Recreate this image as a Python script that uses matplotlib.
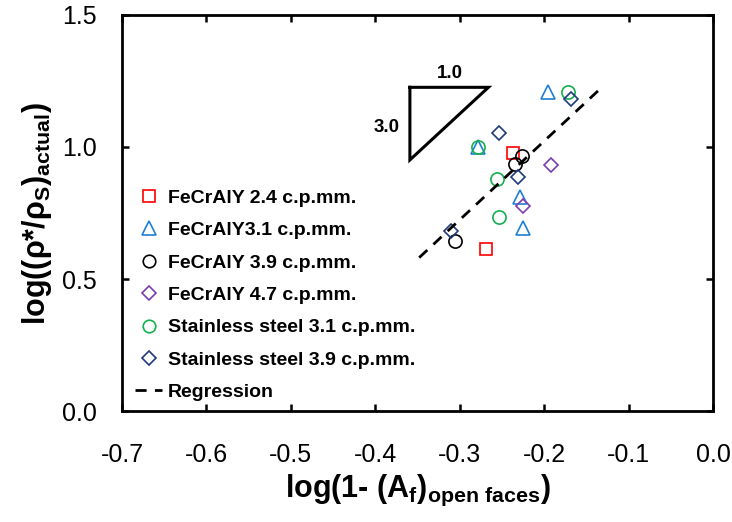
import matplotlib.pyplot as plt
import numpy as np

plt.rcParams['font.family'] = ['Liberation Sans', 'DejaVu Sans']
plt.rcParams['mathtext.fontset'] = 'custom'
plt.rcParams['mathtext.rm'] = 'Liberation Sans:bold'
plt.rcParams['mathtext.it'] = 'Liberation Sans:bold'
plt.rcParams['mathtext.bf'] = 'Liberation Sans:bold'
plt.rcParams['mathtext.default'] = 'rm'

# log(1 - Af) and log(relative density) for each foam sample
fecraly24_x = [-0.237, -0.269]
fecraly24_y = [0.976, 0.612]

fecraly31_x = [-0.196, -0.278, -0.229, -0.225]
fecraly31_y = [1.209, 0.999, 0.812, 0.694]

fecraly39_x = [-0.226, -0.235, -0.306]
fecraly39_y = [0.967, 0.934, 0.645]

fecraly47_x = [-0.192, -0.225]
fecraly47_y = [0.931, 0.776]

steel31_x = [-0.172, -0.278, -0.256, -0.253]
steel31_y = [1.207, 0.999, 0.879, 0.736]

steel39_x = [-0.168, -0.254, -0.231, -0.310]
steel39_y = [1.182, 1.054, 0.887, 0.683]

# regression line end points
reg_x = [-0.348, -0.132]
reg_y = [0.581, 1.225]

# slope triangle (rise 3.0 over run 1.0)
tri_x = [-0.359, -0.266, -0.359, -0.359]
tri_y = [1.226, 1.226, 0.951, 1.226]

fig = plt.figure(figsize=(7.32, 5.22), dpi=100)
ax = fig.add_axes([0.1667, 0.2126, 0.8073, 0.7587])

ms = 9.5
mew = 1.2
ax.plot(fecraly24_x, fecraly24_y, 's', ms=ms - 0.5, mfc='none', mec='#FF0000', mew=mew,
        label='FeCrAlY 2.4 c.p.mm.')
ax.plot(fecraly31_x, fecraly31_y, '^', ms=ms + 0.5, mfc='none', mec='#1F7FD2', mew=mew,
        label='FeCrAlY3.1 c.p.mm.')
ax.plot(fecraly39_x, fecraly39_y, 'o', ms=ms, mfc='none', mec='black', mew=mew,
        label='FeCrAlY 3.9 c.p.mm.')
ax.plot(fecraly47_x, fecraly47_y, 'D', ms=ms - 2.5, mfc='none', mec='#7A3DB0', mew=mew,
        label='FeCrAlY 4.7 c.p.mm.')
ax.plot(steel31_x, steel31_y, 'o', ms=ms, mfc='none', mec='#14B050', mew=mew,
        label='Stainless steel 3.1 c.p.mm.')
ax.plot(steel39_x, steel39_y, 'D', ms=ms - 2.5, mfc='none', mec='#1F3A78', mew=mew,
        label='Stainless steel 3.9 c.p.mm.')
ax.plot(reg_x, reg_y, color='black', lw=2, dashes=(4, 3), label='Regression')

ax.plot(tri_x, tri_y, color='black', lw=2.2, solid_joinstyle='miter')
ax.text(-0.312, 1.277, '1.0', fontsize=13.5, fontweight='bold', ha='center', va='center')
ax.text(-0.371, 1.072, '3.0', fontsize=13.5, fontweight='bold', ha='right', va='center')

ax.set_xlim(-0.7, 0.0)
ax.set_ylim(0.0, 1.5)
ax.set_xticks(np.arange(-0.7, 0.01, 0.1))
ax.set_yticks([0.0, 0.5, 1.0, 1.5])
ax.set_xticklabels(['-0.7', '-0.6', '-0.5', '-0.4', '-0.3', '-0.2', '-0.1', '0.0'])
ax.set_yticklabels(['0.0', '0.5', '1.0', '1.5'])
ax.tick_params(direction='in', length=5, width=1.8, top=True, right=True,
               labelsize=18)
ax.tick_params(axis='x', pad=23)
ax.tick_params(axis='y', pad=18)
for s in ax.spines.values():
    s.set_linewidth(2)

ax.set_xlabel(r'log(1- (A$_{f}$)$_{open\ faces}$)', fontsize=22, fontweight='bold',
              labelpad=4)
ax.set_ylabel(r'log(($\rho$*/$\rho_{S}$)$_{actual}$)', fontsize=22, fontweight='bold',
              labelpad=6)

ax.legend(loc='upper left', bbox_to_anchor=(0.022, 0.56), frameon=False,
          prop={'weight': 'bold', 'size': 14}, markerscale=0.95,
          borderaxespad=0, borderpad=0, labelspacing=0.76,
          handlelength=1.4, handletextpad=0.3)

fig.savefig('out.png', dpi=100)
